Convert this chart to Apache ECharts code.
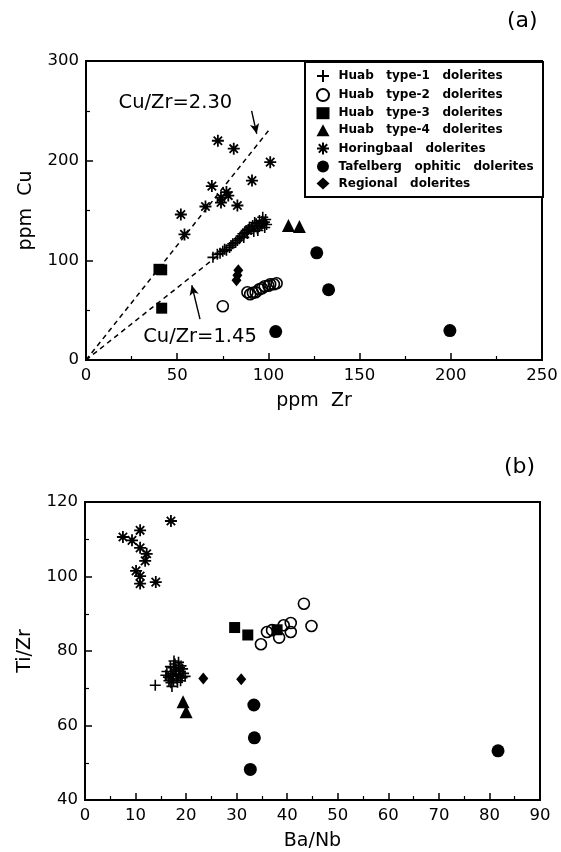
<!DOCTYPE html>
<html>
<head>
<meta charset="utf-8">
<script src="https://cdn.jsdelivr.net/npm/echarts@6/dist/echarts.min.js"></script>
<style>html,body{margin:0;padding:0;background:#fff;}#c{width:561px;height:852px;}</style>
</head>
<body>
<div id="c"></div>
<script>
// ---------- Series names (legend) ----------
const seriesNames = ['Huab   type-1   dolerites','Huab   type-2   dolerites','Huab   type-3   dolerites','Huab   type-4   dolerites','Horingbaal   dolerites','Tafelberg   ophitic   dolerites','Regional   dolerites'];

// ---------- Data: panel (a) ppm Zr vs ppm Cu ----------
const a_type1 = [[69.6,103],[72,106],[73.5,107],[75,109],[76,111],[77,110],[78.7,113],[79.5,115],[80.5,116.7],[82,118],[83,120],[84,121.7],[85,124],[86,126.7],[86.5,123],[87,128],[87.8,130],[88.5,127],[89,131],[89.6,133.3],[90.5,131],[91.4,135],[92,129],[92.5,138],[93.3,136.7],[94,132],[94.2,130],[95,134],[95.1,140],[96,135],[96.5,139],[96.9,143.3],[97,137],[97.8,138.3],[98.5,141],[98,133],[99,136]];
const a_type2 = [[75,54],[88.5,68],[90,66],[91.5,67.5],[93,68],[95,71],[96.5,72],[98,74],[100,74.5],[101,76],[103,76],[104.5,77]];
const a_type3 = [[40,91],[41.5,90.5],[41.5,52]];
const a_type4 = [[111,135],[117,134]];
const a_horing = [[72.3,220],[81,212],[101,198.5],[91,180],[69,174.5],[77,168.5],[78,165],[74,163],[74,158],[65.5,154],[83,155],[52,146],[54,126]];
const a_tafel = [[126.5,107.5],[133,70.5],[104,28.5],[199.5,29.5]];
const a_regional = [[83.5,90],[83,85],[82.5,80]];

const ratioLine230 = [[0,0],[100,230]];
const ratioLine145 = [[0,0],[72,104.4]];
const ratioLabels = [{name:'Cu/Zr=2.30', value:[49,258]},{name:'Cu/Zr=1.45', value:[62.5,23]}];
const arrow230 = [[90.8,250],[93.6,227]];
const arrow145 = [[62.5,41],[58,75]];

// ---------- Data: panel (b) Ba/Nb vs Ti/Zr ----------
const b_type1 = [[13.9,70.8],[16.5,73],[17,74],[17.5,72],[18,75],[18.5,73.5],[17,71.5],[19,76],[18.8,74.5],[16,73.5],[17.8,76.5],[19.5,74],[18.2,72.5],[17.5,75.5],[16.8,72.5],[18.5,77],[19.2,72.8],[17.2,70.5],[16.2,74.5],[17.3,73.2],[18,73.8],[18.7,75.5],[19.3,75.2],[17.8,74.6],[16.9,75.8],[18.3,71.6],[19.8,73.2],[17.6,77.3],[18.9,72],[16.6,72]];
const b_type2 = [[34.8,81.8],[36,85.1],[37,85.6],[38.4,83.6],[39.3,86.9],[40.7,85.1],[40.7,87.5],[43.3,92.7],[44.8,86.7]];
const b_type3 = [[29.6,86.3],[32.2,84.3],[38,85.7]];
const b_type4 = [[19.4,66.4],[20,63.7]];
const b_horing = [[17,114.9],[7.5,110.6],[9.3,109.7],[10.9,112.4],[10.9,107.7],[12.2,106.1],[11.9,104.2],[10.1,101.5],[10.9,100.1],[10.9,98.1],[14,98.5]];
const b_tafel = [[33.4,65.5],[33.5,56.7],[32.7,48.2],[81.7,53.2]];
const b_regional = [[23.4,72.6],[30.9,72.4]];

// ---------- Axis ticks ----------
const aX = {min:0, max:250, interval:50};
const aY = {min:0, max:300, interval:100};
const bX = {min:0, max:90, interval:10};
const bY = {min:40, max:120, interval:20};

const FONT = 'DejaVu Sans';
const PLUS = 'path://M5,0 L5,10 M0,5 L10,5';
const STAR = 'path://M5,0 L5,10 M0,5 L10,5 M1.5,1.5 L8.5,8.5 M1.5,8.5 L8.5,1.5';

const styles = [
  {symbol: PLUS, symbolSize: 11, itemStyle:{color:'#000', borderColor:'#000', borderWidth:1.6, opacity:1}},
  {symbol: 'circle', symbolSize: 11, itemStyle:{color:'rgba(255,255,255,0)', borderColor:'#000', borderWidth:1.6, opacity:1}},
  {symbol: 'rect', symbolSize: 11, itemStyle:{color:'#000', opacity:1}},
  {symbol: 'triangle', symbolSize: 13, itemStyle:{color:'#000', opacity:1}},
  {symbol: STAR, symbolSize: 12, itemStyle:{color:'#000', borderColor:'#000', borderWidth:1.8, opacity:1}},
  {symbol: 'circle', symbolSize: 13, itemStyle:{color:'#000', opacity:1}},
  {symbol: 'diamond', symbolSize: [10,12], itemStyle:{color:'#000', opacity:1}}
];
const aData = [a_type1,a_type2,a_type3,a_type4,a_horing,a_tafel,a_regional];
const bData = [b_type1,b_type2,b_type3,b_type4,b_horing,b_tafel,b_regional];

function axisCommon(cfg, name, gap){
  return Object.assign({
    type:'value', name:name, nameLocation:'middle', nameGap:gap, nameMoveOverlap:false,
    nameTextStyle:{fontSize:19, fontFamily:FONT, color:'#000'},
    axisLine:{show:true, onZero:false, lineStyle:{color:'#000', width:2}},
    axisTick:{show:true, inside:true, length:7, lineStyle:{color:'#000', width:1.5}},
    minorTick:{show:true, splitNumber:2, length:4, lineStyle:{color:'#000', width:1.2}},
    splitLine:{show:false},
    axisLabel:{fontSize:16.5, fontFamily:FONT, color:'#000', margin:7}
  }, cfg);
}

const series = [];
seriesNames.forEach((n,i)=>{
  series.push(Object.assign({type:'scatter', name:n, xAxisIndex:0, yAxisIndex:0, data:aData[i], z:3}, styles[i]));
  series.push(Object.assign({type:'scatter', name:n, xAxisIndex:1, yAxisIndex:1, data:bData[i], z:3}, styles[i]));
});
series.push({type:'line', name:'ratio230', xAxisIndex:0, yAxisIndex:0, data:ratioLine230, symbol:'none', lineStyle:{type:[5,4], width:1.5, color:'#000'}, silent:true,
  markLine:{silent:true, symbol:['none','arrow'], symbolSize:[7,10], label:{show:false}, lineStyle:{type:'solid', color:'#000', width:1.4},
    data:[[{coord:arrow230[0]},{coord:arrow230[1]}],[{coord:arrow145[0]},{coord:arrow145[1]}]]}});
series.push({type:'line', name:'ratio145', xAxisIndex:0, yAxisIndex:0, data:ratioLine145, symbol:'none', lineStyle:{type:[5,4], width:1.5, color:'#000'}, silent:true});
series.push({type:'scatter', name:'ratioLabels', xAxisIndex:0, yAxisIndex:0, data:ratioLabels, symbolSize:0, silent:true,
  itemStyle:{opacity:1},
  label:{show:true, position:'inside', formatter:p=>p.name, fontSize:19.5, fontFamily:FONT, color:'#000', opacity:1}});

const option = {
  backgroundColor:'#fff',
  animation:false,
  grid:[
    {left:86, top:61, width:456, height:299, show:true, borderColor:'#000', borderWidth:2, backgroundColor:'transparent'},
    {left:85, top:502, width:455, height:298, show:true, borderColor:'#000', borderWidth:2, backgroundColor:'transparent'}
  ],
  xAxis:[
    axisCommon(Object.assign({gridIndex:0}, aX), 'ppm  Zr', 32),
    axisCommon(Object.assign({gridIndex:1}, bX), 'Ba/Nb', 32)
  ],
  yAxis:[
    axisCommon(Object.assign({gridIndex:0}, aY), 'ppm  Cu', 50),
    axisCommon(Object.assign({gridIndex:1}, bY), 'Ti/Zr', 50)
  ],
  legend:{
    data:seriesNames, orient:'vertical', left:316, top:69, itemWidth:13, itemHeight:12, itemGap:5.1,
    selectedMode:false, padding:0,
    textStyle:{fontSize:12, fontWeight:'bold', fontFamily:FONT, color:'#000', padding:[0,0,0,4]}
  },
  graphic:[
    {type:'rect', left:304, top:61, shape:{width:238, height:135}, style:{fill:'#fff', stroke:'#000', lineWidth:2}, z:1},
    {type:'text', left:507, top:10, style:{text:'(a)', fontSize:22, fontFamily:FONT, fill:'#000'}},
    {type:'text', left:504, top:456, style:{text:'(b)', fontSize:22, fontFamily:FONT, fill:'#000'}}
  ],
  series:series
};
const chart = echarts.init(document.getElementById('c'), null, {renderer:'canvas'});
chart.setOption(option);
</script>
</body>
</html>
